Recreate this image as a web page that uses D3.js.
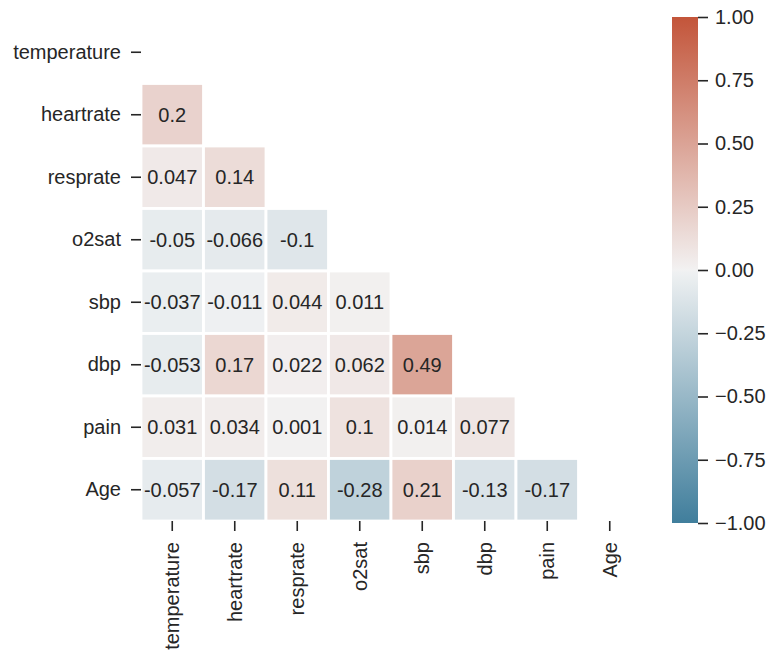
<!DOCTYPE html>
<html>
<head>
<meta charset="utf-8">
<script src="https://cdn.jsdelivr.net/npm/d3@7"></script>
<style>
  html, body { margin: 0; padding: 0; background: #fff; }
  svg { display: block; font-family: "Liberation Sans", Arial, sans-serif; }
</style>
</head>
<body>
<svg id="chart" width="772" height="656"></svg>
<script>
// Variables of the correlation matrix (rows and columns share this order)
const variables = ["temperature", "heartrate", "resprate", "o2sat", "sbp", "dbp", "pain", "Age"];

// Lower-triangle correlations, one array per row (diagonal and above are masked)
const rowTemperature = [];
const rowHeartrate   = [0.2];
const rowResprate    = [0.047, 0.14];
const rowO2sat       = [-0.05, -0.066, -0.1];
const rowSbp         = [-0.037, -0.011, 0.044, 0.011];
const rowDbp         = [-0.053, 0.17, 0.022, 0.062, 0.49];
const rowPain        = [0.031, 0.034, 0.001, 0.1, 0.014, 0.077];
const rowAge         = [-0.057, -0.17, 0.11, -0.28, 0.21, -0.13, -0.17];

// Colour bar ticks
const colorbarTicks = [-1, -0.75, -0.5, -0.25, 0, 0.25, 0.5, 0.75, 1];

const rows = [rowTemperature, rowHeartrate, rowResprate, rowO2sat, rowSbp, rowDbp, rowPain, rowAge];
const cells = [];
rows.forEach((vals, i) => vals.forEach((v, j) => cells.push({ row: variables[i], col: variables[j], value: v })));

// ---- HSLuv -> sRGB (for a husl-based diverging colour map) ----
const M = [
  [3.240969941904521, -1.537383177570093, -0.498610760293],
  [-0.96924363628087, 1.87596750150772, 0.041555057407175],
  [0.055630079696993, -0.20397695888897, 1.056971514242878]
];
const refU = 0.19783000664283, refV = 0.46831999493879;
const kappa = 903.2962962, epsilon = 0.0088564516;
function getBounds(L) {
  const sub1 = Math.pow(L + 16, 3) / 1560896;
  const sub2 = sub1 > epsilon ? sub1 : L / kappa;
  const out = [];
  for (const [m1, m2, m3] of M) {
    for (const t of [0, 1]) {
      const top1 = (284517 * m1 - 94839 * m3) * sub2;
      const top2 = (838422 * m3 + 769860 * m2 + 731718 * m1) * L * sub2 - 769860 * t * L;
      const bottom = (632260 * m3 - 126452 * m2) * sub2 + 126452 * t;
      out.push([top1 / bottom, top2 / bottom]);
    }
  }
  return out;
}
function maxChroma(L, H) {
  const hr = H / 360 * Math.PI * 2;
  let min = Infinity;
  for (const [s, i] of getBounds(L)) {
    const len = i / (Math.sin(hr) - s * Math.cos(hr));
    if (len >= 0) min = Math.min(min, len);
  }
  return min;
}
function husl(H, S, L) {
  const C = maxChroma(L, H) / 100 * S;
  const hr = H / 360 * 2 * Math.PI;
  const U = Math.cos(hr) * C, V = Math.sin(hr) * C;
  const vu = U / (13 * L) + refU, vv = V / (13 * L) + refV;
  const Y = L <= 8 ? L / kappa : Math.pow((L + 16) / 116, 3);
  const X = -(9 * Y * vu) / ((vu - 4) * vv - vu * vv);
  const Z = (9 * Y - 15 * vv * Y - vv * X) / (3 * vv);
  return M.map(r => {
    const c = r[0] * X + r[1] * Y + r[2] * Z;
    const g = c <= 0.0031308 ? 12.92 * c : 1.055 * Math.pow(c, 1 / 2.4) - 0.055;
    return Math.max(0, Math.min(1, g));
  });
}

// Diverging map: blue (h=230) -> light grey -> red (h=20)
const neg = husl(230, 75, 50), negLight = husl(230, 0.15 * 75, 95);
const pos = husl(20, 75, 50), posLight = husl(20, 0.15 * 75, 95);
const mid = [0.95, 0.95, 0.95];
const stops = [
  { t: 0, c: neg },
  { t: 127 / 256, c: negLight },
  { t: 128 / 256, c: mid },
  { t: 129 / 256, c: posLight },
  { t: 1, c: pos }
];
const toCss = c => d3.rgb(c[0] * 255, c[1] * 255, c[2] * 255).formatHex();
function cmapAt(t) {
  for (let k = 1; k < stops.length; k++) {
    if (t <= stops[k].t) {
      const a = stops[k - 1], b = stops[k];
      const f = (t - a.t) / (b.t - a.t);
      return a.c.map((x, i) => x + (b.c[i] - x) * f);
    }
  }
  return stops[stops.length - 1].c;
}
const norm = d3.scaleLinear().domain([-1, 1]).range([0, 1]).clamp(true);
function colorFor(v) {
  const idx = Math.min(255, Math.floor(norm(v) * 256));
  return toCss(cmapAt(idx / 255));
}

// ---- Layout ----
const svg = d3.select("#chart");
const ink = "#262626";
const labelFont = "Liberation Sans, Arial, sans-serif";
const x = d3.scaleBand().domain(variables).range([141, 641]);
const y = d3.scaleBand().domain(variables).range([21, 521]);

// Cells
svg.append("g").selectAll("rect").data(cells).join("rect")
  .attr("x", d => x(d.col))
  .attr("y", d => y(d.row))
  .attr("width", x.bandwidth())
  .attr("height", y.bandwidth())
  .attr("fill", d => colorFor(d.value))
  .attr("stroke", "#fff")
  .attr("stroke-width", 2.8);

// Annotations
const annotFmt = d3.formatLocale({ decimal: ".", thousands: ",", grouping: [3], currency: ["", ""], minus: "-" }).format(".2~g");
svg.append("g").selectAll("text").data(cells).join("text")
  .attr("x", d => x(d.col) + x.bandwidth() / 2)
  .attr("y", d => y(d.row) + y.bandwidth() / 2)
  .attr("dy", "0.36em")
  .attr("text-anchor", "middle")
  .attr("font-size", 20)
  .attr("fill", ink)
  .text(d => annotFmt(d.value));

// Y axis (left)
const yAxis = svg.append("g")
  .attr("transform", "translate(141,0)")
  .call(d3.axisLeft(y).tickSize(10).tickPadding(10));
yAxis.select(".domain").remove();
yAxis.selectAll(".tick line").attr("stroke", ink).attr("stroke-width", 1.6);
yAxis.selectAll(".tick text").attr("font-size", 20).attr("fill", ink)
  .attr("font-family", labelFont);

// X axis (bottom, labels rotated)
const xAxis = svg.append("g")
  .attr("transform", "translate(0,521)")
  .call(d3.axisBottom(x).tickSize(10).tickPadding(10));
xAxis.select(".domain").remove();
xAxis.selectAll(".tick line").attr("stroke", ink).attr("stroke-width", 1.6);
xAxis.selectAll(".tick text")
  .attr("font-size", 20).attr("fill", ink)
  .attr("font-family", labelFont)
  .attr("transform", "rotate(-90)")
  .attr("text-anchor", "end")
  .attr("x", -21)
  .attr("y", 0)
  .attr("dy", "0.35em");

// Colour bar
const cbX = 672, cbW = 26;
const cbScale = d3.scaleLinear().domain([-1, 1]).range([523, 17]);
const defs = svg.append("defs");
const grad = defs.append("linearGradient").attr("id", "cbGrad")
  .attr("x1", 0).attr("y1", 1).attr("x2", 0).attr("y2", 0);
grad.selectAll("stop").data(stops).join("stop")
  .attr("offset", d => d.t)
  .attr("stop-color", d => toCss(d.c));
svg.append("rect")
  .attr("x", cbX).attr("y", cbScale(1))
  .attr("width", cbW).attr("height", cbScale(-1) - cbScale(1))
  .attr("fill", "url(#cbGrad)");

const cbAxis = svg.append("g")
  .attr("transform", `translate(${cbX + cbW},0)`)
  .call(d3.axisRight(cbScale).tickValues(colorbarTicks).tickFormat(d3.format(".2f")).tickSize(10).tickPadding(7));
cbAxis.select(".domain").remove();
cbAxis.selectAll(".tick line").attr("stroke", ink).attr("stroke-width", 1.6);
cbAxis.selectAll(".tick text").attr("font-size", 20).attr("fill", ink)
  .attr("font-family", labelFont);
</script>
</body>
</html>
